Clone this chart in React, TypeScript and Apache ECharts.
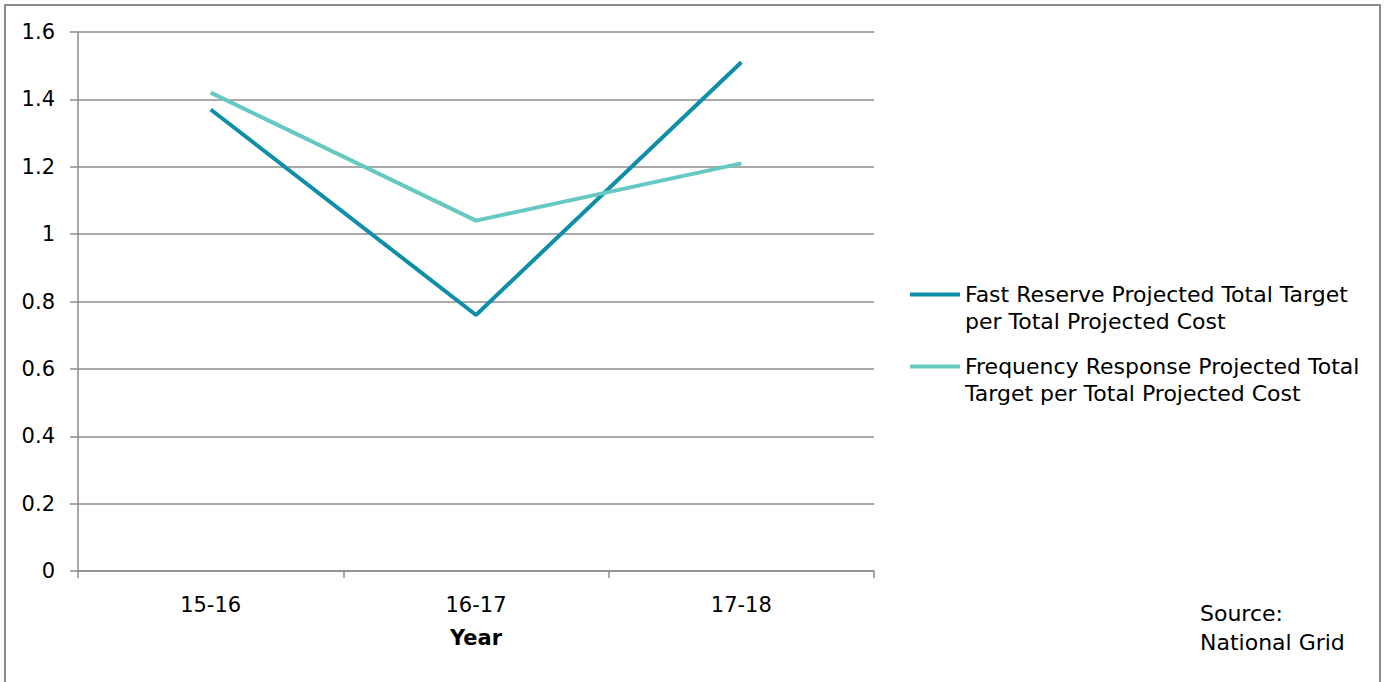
import React, { useEffect, useRef } from "react";
import * as echarts from "echarts";

const categories = ["15-16", "16-17", "17-18"];
const seriesNames = [
  "Fast Reserve Projected Total Target\nper Total Projected Cost",
  "Frequency Response Projected Total\nTarget per Total Projected Cost",
];
const fastReserve = [1.37, 0.76, 1.51];
const frequencyResponse = [1.42, 1.04, 1.21];
const colors = ["#0e8ea8", "#66c9c1"];
const axisTitle = "Year";
const sourceText = "Source:\nNational Grid";

const FONT = "'DejaVu Sans', Tahoma, Verdana, sans-serif";

export default function App() {
  const ref = useRef<HTMLDivElement>(null);
  useEffect(() => {
    document.body.style.margin = "0";
    const chart = echarts.init(ref.current!, null, { renderer: "svg" });
    chart.setOption({
      animation: false,
      backgroundColor: "#ffffff",
      textStyle: { fontFamily: FONT },
      grid: { left: 78, right: 513, top: 32, bottom: 111, containLabel: false },
      xAxis: {
        type: "category",
        data: categories,
        boundaryGap: true,
        name: axisTitle,
        nameLocation: "middle",
        nameGap: 56,
        nameTextStyle: { fontSize: 21, fontWeight: "bold", color: "#000", fontFamily: FONT },
        axisLine: { show: true, lineStyle: { color: "#8c8c8c", width: 1.5 } },
        axisTick: { show: true, alignWithLabel: false, length: 7, inside: false, lineStyle: { color: "#8c8c8c", width: 1.5 } },
        axisLabel: { fontSize: 21, color: "#000", margin: 23, fontFamily: FONT },
        splitLine: { show: false },
      },
      yAxis: {
        type: "value",
        min: 0,
        max: 1.6,
        interval: 0.2,
        axisLine: { show: true, lineStyle: { color: "#8c8c8c", width: 1.5 } },
        axisTick: { show: true, length: 8, lineStyle: { color: "#8c8c8c", width: 1.5 } },
        axisLabel: {
          fontSize: 21,
          color: "#000",
          margin: 23,
          fontFamily: FONT,
          formatter: (v: number) => String(Math.round(v * 10) / 10),
        },
        splitLine: { show: true, lineStyle: { color: "#8c8c8c", width: 1.5 } },
      },
      legend: {
        orient: "vertical",
        left: 910,
        top: 254,
        padding: 0,
        itemWidth: 50,
        itemHeight: 4,
        itemGap: -9,
        icon: "rect",
        formatter: (name: string) => "\n" + name,
        textStyle: {
          fontSize: 22,
          color: "#000",
          fontFamily: FONT,
          lineHeight: 27,
        },
        data: seriesNames,
      },
      graphic: [
        {
          type: "rect",
          shape: { x: 5, y: 5, width: 1375, height: 700 },
          style: { fill: "none", stroke: "#8c8c8c", lineWidth: 2 },
          silent: true,
        },
        {
          type: "text",
          left: 1200,
          top: 599,
          style: { text: sourceText, fill: "#000", font: `22px ${FONT}`, lineHeight: 29 },
        },
      ],
      series: [
        {
          name: seriesNames[0],
          type: "line",
          data: fastReserve,
          showSymbol: false,
          symbol: "none",
          lineStyle: { color: colors[0], width: 4 },
          itemStyle: { color: colors[0] },
        },
        {
          name: seriesNames[1],
          type: "line",
          data: frequencyResponse,
          showSymbol: false,
          symbol: "none",
          lineStyle: { color: colors[1], width: 4 },
          itemStyle: { color: colors[1] },
        },
      ],
    });
    return () => chart.dispose();
  }, []);
  return <div ref={ref} style={{ position: "fixed", left: 0, top: 0, width: 1387, height: 682 }} />;
}
